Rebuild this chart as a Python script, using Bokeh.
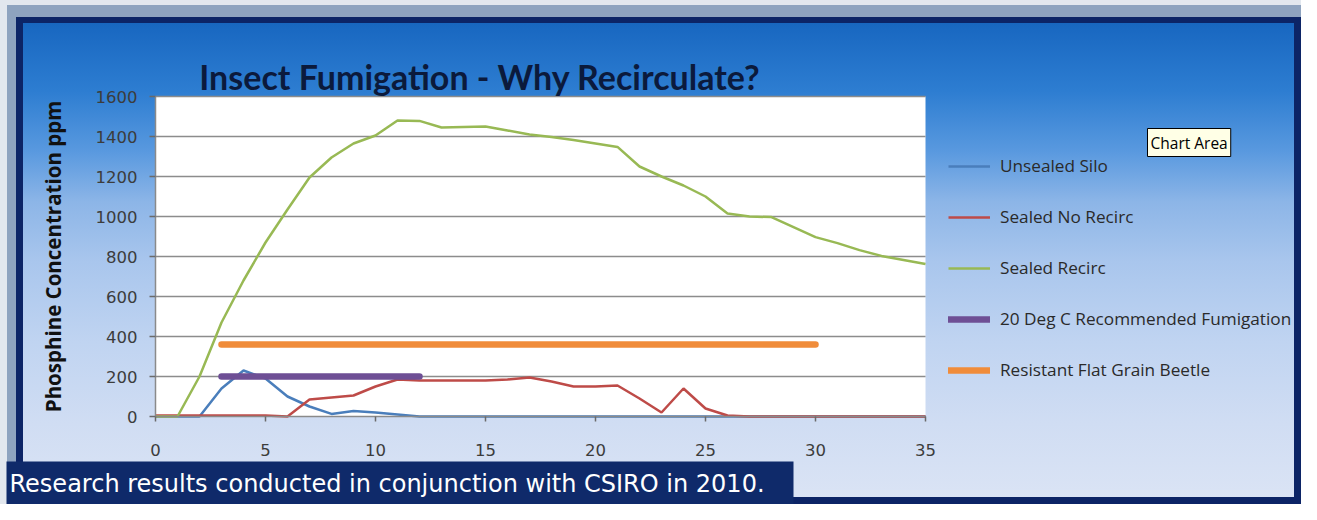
from bokeh.plotting import figure
from bokeh.models import Range1d, Legend, LegendItem, Label, BoxAnnotation, FixedTicker
from bokeh.embed import file_html
from bokeh.resources import INLINE

# ---- data ----
days = list(range(36))
unsealed_silo = [0, 0, 0, 140, 230, 190, 100, 50, 13, 27, 20, 10, 0, 0, 0, 0, 0, 0,
                 0, 0, 0, 0, 0, 0, 0, 0, 0, 0, 0, 0, 0, 0, 0, 0, 0, 0]
sealed_no_recirc = [5, 5, 5, 5, 5, 5, 0, 85, 95, 105, 150, 185, 180, 180, 180, 180, 185, 195,
                    175, 150, 150, 155, 90, 20, 140, 40, 5, 0, 0, 0, 0, 0, 0, 0, 0, 0]
sealed_recirc = [0, 0, 200, 470, 680, 870, 1035, 1195, 1295, 1365, 1405, 1480, 1478, 1445, 1448,
                 1450, 1430, 1410, 1398, 1382, 1365, 1348, 1250, 1200, 1155, 1100, 1015, 1000,
                 997, 947, 897, 867, 832, 803, 783, 762]
recommended_x = [3, 12]
recommended_y = [200, 200]
beetle_x = [3, 30]
beetle_y = [360, 360]

series_names = ["Unsealed Silo", "Sealed No Recirc", "Sealed Recirc",
                "20 Deg C Recommended Fumigation", "Resistant Flat Grain Beetle"]
x_ticks = [0, 5, 10, 15, 20, 25, 30, 35]
y_ticks = [0, 200, 400, 600, 800, 1000, 1200, 1400, 1600]
x_bounds = (0, 35)
y_bounds = (0, 1600)

title_text = "Insect Fumigation - Why Recirculate?"
y_axis_title = "Phosphine Concentration ppm"
caption_text = "Research results conducted in conjunction with CSIRO in 2010."
tooltip_text = "Chart Area"

# ---- layout: the frame fills the canvas; data 0..35 / 0..1600 sit at the chart's plot area ----
W, H = 1301, 504
PX0, PX_PER_X = 155.0, 22.0     # canvas x of day 0, px per day
PY0, PX_PER_Y = 416.0, 0.2      # canvas y of 0 ppm, px per ppm


def dx(px):
    return (px - PX0) / PX_PER_X


def dy(py):
    return (PY0 - py) / PX_PER_Y


p = figure(width=W, height=H, output_backend="svg", toolbar_location=None,
           x_range=Range1d(dx(0), dx(W)), y_range=Range1d(dy(H), dy(0)), min_border=0)
p.border_fill_alpha = 0
p.background_fill_alpha = 0
p.outline_line_color = None
p.styles = {
    "background": "linear-gradient(to bottom, #105bb3 0%, #1a69c2 6%, #2d7dd1 18%, #5999df 30%, "
                  "#8cb5e7 40%, #a9c6ed 52%, #c0d4f1 68%, #d0ddf3 84%, #dbe4f5 100%)",
    "box-shadow": "inset 7px 5px 0 0 #e2e7ee, inset 16px 17px 0 0 #8ea3bf, "
                  "inset 23px 23px 0 0 #0c2466, inset -7px -7px 0 0 #0c2466",
}

# white plot area
plot_area = BoxAnnotation(left=x_bounds[0], right=x_bounds[1], bottom=y_bounds[0], top=y_bounds[1],
                          fill_color="white", fill_alpha=1, line_color=None, level="image")
p.add_layout(plot_area)

# axes fixed at the plot area's edges
p.xaxis.fixed_location = y_bounds[0]
p.yaxis.fixed_location = x_bounds[0]
p.xaxis.bounds = x_bounds
p.yaxis.bounds = y_bounds
p.xaxis.ticker = FixedTicker(ticks=x_ticks)
p.yaxis.ticker = FixedTicker(ticks=y_ticks)
for ax in (p.xaxis[0], p.yaxis[0]):
    ax.axis_line_color = "#8a8a8a"
    ax.axis_line_width = 1.5
    ax.major_tick_line_color = "#6a6a6a"
    ax.major_tick_line_width = 1.5
    ax.major_tick_in = 0
    ax.minor_tick_line_color = None
    ax.major_label_text_font = "DejaVu Sans"
    ax.major_label_text_font_size = "16.5px"
    ax.major_label_text_color = "#3c3c3c"
p.xaxis.major_tick_out = 5
p.xaxis.major_label_standoff = 22
p.yaxis.major_tick_out = 6
p.yaxis.major_label_standoff = 12
p.yaxis.axis_label = y_axis_title
p.yaxis.axis_label_text_font = "Open Sans"
p.yaxis.axis_label_text_font_style = "bold"
p.yaxis.axis_label_text_font_size = "20.5px"
p.yaxis.axis_label_text_color = "#111111"
p.yaxis.axis_label_standoff = 26

# grid
p.xgrid.grid_line_color = None
p.ygrid.grid_line_color = "#8c8c8c"
p.ygrid.grid_line_width = 1.5
p.ygrid.ticker = FixedTicker(ticks=y_ticks[1:])
try:
    p.ygrid.cross_bounds = x_bounds
except Exception:
    p.ygrid.grid_line_color = None
    p.segment(x0=[x_bounds[0]] * (len(y_ticks) - 1), x1=[x_bounds[1]] * (len(y_ticks) - 1),
              y0=y_ticks[1:], y1=y_ticks[1:], line_color="#8c8c8c", line_width=1.5)

# series
r1 = p.line(days, unsealed_silo, line_color="#4a7ebb", line_width=2.5)
r2 = p.line(days, sealed_no_recirc, line_color="#be4b48", line_width=2.5)
r3 = p.line(days, sealed_recirc, line_color="#98b954", line_width=2.5)
r4 = p.line(recommended_x, recommended_y, line_color="#6e4f95", line_width=6.5, line_cap="round")
r5 = p.line(beetle_x, beetle_y, line_color="#f08c3a", line_width=6.5, line_cap="round")

legend = Legend(items=[LegendItem(label=n, renderers=[r]) for n, r in
                       zip(series_names, [r1, r2, r3, r4, r5])],
                location=(948, H - 381), orientation="vertical",
                glyph_width=42, glyph_height=20, label_height=20, label_standoff=10,
                spacing=28, padding=0, margin=0,
                background_fill_alpha=0, border_line_color=None,
                label_text_font="Open Sans", label_text_font_size="17.2px",
                label_text_color="#2a2a2a")
p.add_layout(legend)

title = Label(x=dx(479.5), y=dy(76), text=title_text, text_align="center",
              text_baseline="middle", text_font="Lato", text_font_style="bold",
              text_font_size="34px", text_color="#0b1a3c")
p.add_layout(title)

tip = Label(x=dx(1147), y=dy(142), text=tooltip_text, text_align="left", text_baseline="middle",
            text_font="Open Sans", text_font_size="15.5px", text_color="black",
            background_fill_color="#ffffe6", border_line_color="black", border_line_width=1,
            padding=3)
p.add_layout(tip)

cap_box = BoxAnnotation(left=dx(6), right=dx(793), top=dy(461), bottom=dy(530),
                        fill_color="#0f2a6a", fill_alpha=1, line_color=None)
p.add_layout(cap_box)
caption = Label(x=dx(9), y=dy(483), text=caption_text, text_align="left",
                text_baseline="middle", text_font="DejaVu Sans", text_font_size="24px",
                text_color="white")
p.add_layout(caption)

open("out.html", "w").write(file_html(p, INLINE))
